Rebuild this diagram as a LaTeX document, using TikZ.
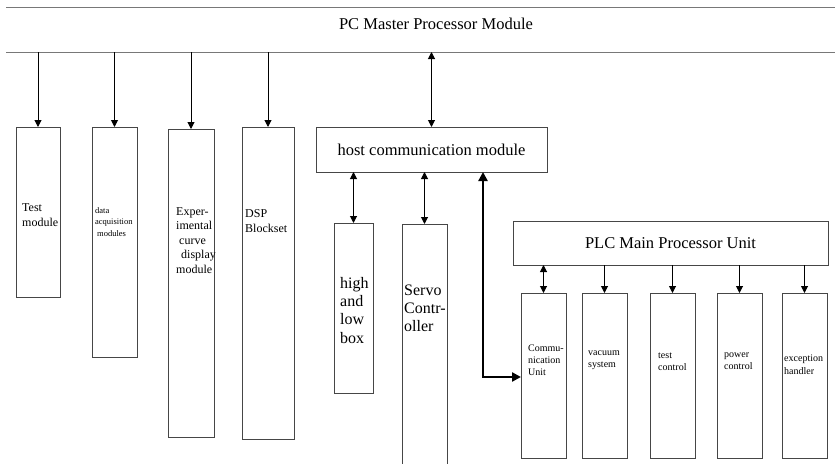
\documentclass[tikz,border=0pt]{standalone}
\usepackage{fontspec}
\setmainfont{Liberation Serif}
\usetikzlibrary{arrows.meta}
\definecolor{busgray}{RGB}{120,120,120}
\definecolor{boxgray}{RGB}{70,70,70}

\begin{document}
\begin{tikzpicture}[x=1pt,y=-1pt,
    box/.style={draw=boxgray, line width=0.9pt, inner sep=0pt, outer sep=0pt, anchor=north west},
    lbl/.style={inner sep=0pt, align=left, anchor=north west},
    arr/.style={-{Triangle[length=7pt,width=7pt]}, line width=1pt},
    dbl/.style={{Triangle[length=7pt,width=7pt]}-{Triangle[length=7pt,width=7pt]}, line width=1pt},
    wide/.style={{Triangle[length=9pt,width=9pt]}-{Triangle[length=9pt,width=9pt]}, line width=2.4pt}]
\useasboundingbox (0,0) rectangle (835,463);
\clip (0,0) rectangle (835,463);

% PC master bus
\draw[busgray, line width=1pt] (6,7) -- (835,7);
\draw[busgray, line width=1pt] (6,52) -- (835,52);
\coordinate (busb) at (6,52);
\node[font=\fontsize{16.5}{19}\selectfont] (pc) at (436,24) {PC Master Processor Module};

% left modules
\node[box, minimum width=44, minimum height=170] (test) at (16,127) {};
\node[box, minimum width=45, minimum height=230] (daq) at (92,127) {};
\node[box, minimum width=46, minimum height=308] (curve) at (168,129) {};
\node[box, minimum width=52, minimum height=312] (dsp) at (242,127) {};
\foreach \n in {test,daq,curve,dsp}
    \draw[arr] (\n.north |- busb) -- (\n.north);

\node[lbl, font=\fontsize{12}{15}\selectfont] (testtxt) at (22,203) {Test\\module};
\node[lbl, font=\fontsize{8.5}{11.5}\selectfont] (daqtxt) at (95,207) {data\\acquisition\\\hspace{2pt}modules};
\node[lbl, font=\fontsize{12}{14.6}\selectfont] (curvetxt) at (176,207)
    {Exper-\\imental\\\hspace{3pt}curve\\\hspace{5pt}display\\module};
\node[lbl, font=\fontsize{12}{15}\selectfont] (dsptxt) at (245,209) {DSP\\Blockset};

% host communication
\node[box, minimum width=231, minimum height=45, font=\fontsize{16.5}{19}\selectfont] (host) at (316,127)
    {host communication module};
\draw[dbl] (host.north |- busb) -- (host.north);

\node[box, minimum width=39, minimum height=170] (hilo) at (334,223) {};
\node[box, minimum width=45, minimum height=250] (servo) at (402,224) {};
\draw[dbl] (host.south -| hilo.north) -- (hilo.north);
\draw[dbl] (host.south -| servo.north) -- (servo.north);
\node[lbl, font=\fontsize{16}{18.3}\selectfont] (hilotxt) at (340,277) {high\\and\\low\\box};
\node[lbl, font=\fontsize{16}{17.7}\selectfont] (servotxt) at (404,285) {Servo\\Contr-\\oller};

% PLC main processor
\node[box, minimum width=315, minimum height=44, font=\fontsize{16.5}{19}\selectfont] (plc) at (513,221)
    {PLC Main Processor Unit};
\foreach \n/\x in {comm/521, vac/582, tst/650, pwr/717, exc/782}
    \node[box, minimum width=45, minimum height=165] (\n) at (\x,293) {};
\draw[dbl] (plc.south -| comm.north) -- (comm.north);
\foreach \n in {vac,tst,pwr,exc}
    \draw[arr] (plc.south -| \n.north) -- (\n.north);

\node[lbl, font=\fontsize{10}{12}\selectfont] (commtxt) at (528,345) {Commu-\\nication\\Unit};
\node[lbl, font=\fontsize{10}{11.5}\selectfont] (vactxt) at (588,351) {vacuum\\system};
\node[lbl, font=\fontsize{10}{12}\selectfont] (tsttxt) at (658,353) {test\\control};
\node[lbl, font=\fontsize{10}{12}\selectfont] (pwrtxt) at (724,353) {power\\control};
\node[lbl, font=\fontsize{10}{12.5}\selectfont] (exctxt) at (784,355) {exception\\handler};

% link host <-> PLC
\coordinate (elbow) at (483,377);
\draw[wide] (comm.west |- elbow) -- (elbow) -- (elbow |- host.south);
\end{tikzpicture}
\end{document}
